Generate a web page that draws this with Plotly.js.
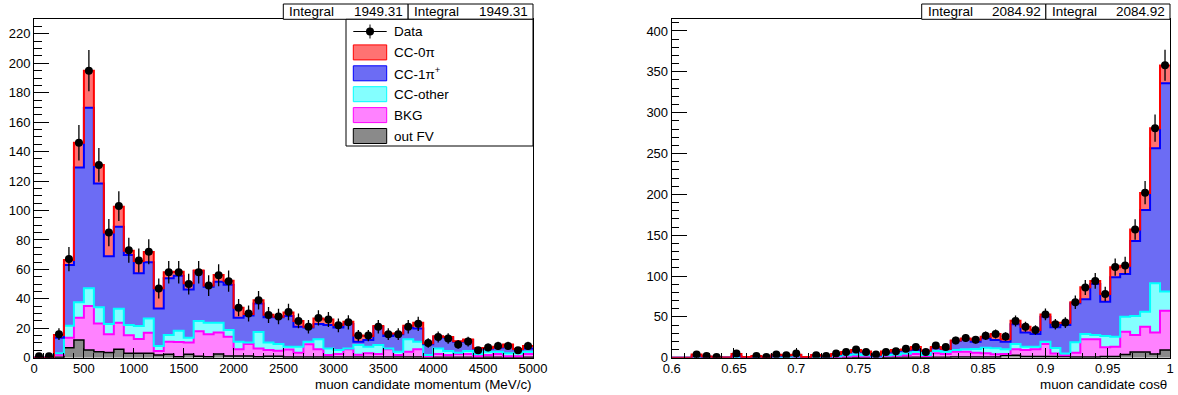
<!DOCTYPE html>
<html><head><meta charset="utf-8">
<script src="https://cdn.plot.ly/plotly-3.0.1.min.js"></script>
<style>html,body{margin:0;padding:0;background:#fff;}#chart{width:1178px;height:395px;}</style>
</head><body><div id="chart"></div>
<script>
// ---------------- data ----------------
const momBinLow = 0, momBinWidth = 100;      // 50 bins, 0-5000 MeV/c
const cosBinLow = 0.6, cosBinWidth = 0.008;  // 50 bins, 0.6-1.0

const momData = [1,1,16,67,146,195,131,85,103,73,66,72,47,58,58,50,58,49,56,52,34,30,39,29,28,31,25,21,27,26,22,24,15,15,21,16,16,21,23,10,14,13,9,11,5,7,8,8,5,8];
const momOutFV = [0,0,0.3,6.8,12,5.2,4,3.6,5.7,3,3,3,1.8,2.3,0.7,2.3,1,0.7,2.5,1.2,1.2,1.2,0.7,1,1,0.5,0.5,0.5,0.5,0.5,0.5,0.5,0.5,0.5,0.5,0.5,0.5,0.5,0.5,0.5,0.3,0.3,0.3,0.3,0.3,0.3,0.3,0.3,0.3,0.3];
const momBKG = [0,0,1.7,6.8,15.2,29.9,19.3,12.4,18.1,12.2,9.7,14,2.7,8.6,9.9,8.1,17,15.3,14.7,13.1,4.5,8.1,5.6,4.2,3.8,5,2.9,8.6,5.2,1.3,2,5.2,1.5,2.5,2,5.2,1.3,3.6,5.2,0.5,2.2,1.5,2.2,2.2,0.7,1.5,2.2,0.7,0.7,2.2];
const momCCother = [0,0,1,8.1,10.4,12,10.9,6.9,9.5,7,8.8,9.7,3.5,4.5,7.7,3.2,6.9,7.8,6.6,4.5,5.2,1.1,11.1,5.2,4.5,2,4.1,1.8,6.8,4.5,2.7,0.6,6.6,4.5,6.1,0.6,2.3,8.4,5.2,0.8,3.8,2.7,0.9,2,1.5,2.3,1.6,2,2,1.6];
const momCC1pi = [0,0,10.5,41.3,91.7,122.7,84.2,46.1,55.7,47.5,35.8,38.1,25.5,38.6,37.4,32.8,34,24.4,27.8,30.8,16.3,18.2,19.5,17,18.1,20.8,13.5,9.7,10.4,15.9,15.4,16.6,2.3,4.5,12.4,8.4,11.9,8.1,9,7.3,7.9,9.3,7.5,7.5,3.8,2.2,2.9,5.6,2.7,2.2];
const momCC0pi = [0,0,2,3.3,16.7,25.2,12.6,16,13.6,3,8.4,7,13.6,4,2.7,4.1,0.3,0.8,4.5,2.7,6.8,1.1,2.1,1.8,0.5,2.4,4,0.4,3.8,3.8,1.6,1.6,4.1,2.7,0.5,1.8,0.5,1.1,3.9,0.7,0.3,0.3,0.3,0.3,0.2,0.3,0.5,0.3,0.2,1.6];

const cosData = [null,null,4,2,1,null,5,null,2,1,4,3,5,null,3,2,5,7,10,7,4,7,8,11,13,7,15,13,21,24,22,27,29,26,45,38,34,53,41,43,68,86,94,78,111,113,157,202,281,358];
const cosOutFV = [0,0,0,0,0,0,0,0,0,0,0,0,0,0,0,0,0,0.3,0.3,0.3,0.3,0.3,0.5,0.5,0.7,0.7,0.7,0.7,1,1,1,1,1,2.9,2.9,1.5,1.5,1.5,1.5,1.5,1,1,1,1.5,1.5,4,7,7,4.5,9.4];
const cosBKG = [0,0,1,0.5,0.2,0,0.6,0.2,0.6,0.2,1,0.5,1,0.2,0.5,0.3,1,1.2,1.7,1.2,0.7,1.7,2,2.5,3.8,1.3,4.6,3.8,6.4,6.4,5.1,4.3,3.1,1.6,7.3,7.9,8.7,15.3,3.5,1.5,5,21.5,21.5,11.2,12,27.9,20.8,31,26.5,48.2];
const cosCCother = [0,0,0.3,0.1,0,0,0.2,0.1,0.2,0.1,0.3,0.3,0.5,0.1,0.5,0.2,0.8,1.5,2,1.5,0.5,1,1,2,2.9,1.3,2.9,2.9,2,2.8,4.5,7,7.4,5.7,6.6,4.1,3.3,2.8,7,2,12.9,6.5,5.3,13.9,12.3,18.3,23.2,18.4,60,23.3];
const cosCC1pi = [0,0,1,0.6,0.3,0.2,1.2,0.3,0.8,0.3,1.2,1.8,1.5,0.3,2,1,2,3.5,4.5,4,1.2,3.5,5,4,2,5.3,4.1,3.2,11,12.3,9,11.4,10.2,9.4,24,17.5,15.5,30.6,25.2,35,47.7,42.5,62.4,42,72.6,52.3,91.9,124.4,165.4,255.1];
const cosCC0pi = [0,0,1.5,0.3,0.1,0.1,2.5,0.2,0.4,0.2,1,0.4,0.5,0.2,0.3,0.3,0.7,0.5,1,0.5,0.8,1,1,1,3.6,0,0.7,0.4,0.6,1,2.4,1.8,7.3,2.9,4.5,7,4.9,2.8,5.7,2.9,1.3,14.7,3.7,9.4,12.3,10.2,14.1,20.9,24.4,21.6];

const componentNames = ['out FV','BKG','CC-other','CC-1π<sup>+</sup>','CC-0π'];
const legendOrder = ['Data','CC-0π','CC-1π<sup>+</sup>','CC-other','BKG','out FV'];
const momIntegral = '1949.31';
const cosIntegral = '2084.92';
const momTitle = 'muon candidate momentum (MeV/c)';
const cosTitle = 'muon candidate cosθ';

// ---------------- style ----------------
const lineColors = ['#000000','#ff00ff','#00ffff','#0000ff','#ff0000'];
const fillColors = ['#8a8a8a','#ff82ff','#84ffff','#6c6cf4','#ff7272'];
const FONT = 'Liberation Sans, Arial, sans-serif';
const W = 1178, H = 395;
const fx = p => p / W, fy = p => 1 - p / H;

function stepTrace(low, width, vals, xa, ya, idx, group) {
  const x = [], y = [];
  for (let i = 0; i < vals.length; i++) { x.push(low + i * width); y.push(vals[i]); }
  x.push(low + vals.length * width); y.push(vals[vals.length - 1]);
  return {type:'scatter', mode:'lines', x, y, xaxis:xa, yaxis:ya, stackgroup:group,
    name: componentNames[idx], line:{shape:'hv', color:lineColors[idx], width: idx===0?1.5:2},
    fillcolor: fillColors[idx], hoverinfo:'skip', showlegend:false};
}
function dataTrace(low, width, vals, xa, ya) {
  const x = vals.map((_, i) => low + (i + 0.5) * width);
  return {type:'scatter', mode:'markers', x, y: vals, xaxis:xa, yaxis:ya, name:'Data',
    marker:{color:'black', size:8, symbol:'circle'},
    error_y:{type:'data', array: vals.map(v => v==null?null:Math.sqrt(v)), color:'black', thickness:1.3, width:0},
    showlegend:false};
}

const momSeries = [momOutFV, momBKG, momCCother, momCC1pi, momCC0pi];
const cosSeries = [cosOutFV, cosBKG, cosCCother, cosCC1pi, cosCC0pi];
const traces = [];
momSeries.forEach((s, i) => traces.push(stepTrace(momBinLow, momBinWidth, s, 'x', 'y', i, 'L')));
traces.push(dataTrace(momBinLow, momBinWidth, momData, 'x', 'y'));
cosSeries.forEach((s, i) => traces.push(stepTrace(cosBinLow, cosBinWidth, s, 'x2', 'y2', i, 'R')));
traces.push(dataTrace(cosBinLow, cosBinWidth, cosData, 'x2', 'y2'));

const tickFont = {family:FONT, size:13, color:'black'};
function axis(domain, range, dtick, minor, ticklen, anchor, tick0) {
  return {domain, range, anchor, dtick, tick0, showline:true, linecolor:'black', linewidth:1, mirror:true,
    ticks:'inside', ticklen, tickwidth:1, tickcolor:'black', showgrid:false, zeroline:false,
    tickfont:tickFont, minor:{dtick:minor, ticks:'inside', ticklen:ticklen/2, tickcolor:'black', showgrid:false},
    fixedrange:true};
}
const leftX = [34, 533], rightX = [671.7, 1170], plotY = [19.3, 357.7];
const layout = {
  width:W, height:H, margin:{l:0,r:0,t:0,b:0}, paper_bgcolor:'white', plot_bgcolor:'white', showlegend:false,
  font:{family:FONT, size:13, color:'black'},
  xaxis: axis([fx(leftX[0]), fx(leftX[1])], [0,5000], 500, 100, 10, 'y', 0),
  yaxis: axis([fy(plotY[1]), fy(plotY[0])], [0,229.9], 20, 5, 15, 'x', 0),
  xaxis2: axis([fx(rightX[0]), fx(rightX[1])], [0.6,1.0], 0.05, 0.01, 10, 'y2', 0.6),
  yaxis2: axis([fy(plotY[1]), fy(plotY[0])], [0,414.3], 50, 10, 15, 'x2', 0),
  shapes:[], annotations:[]
};
layout.xaxis.ticklabelstandoff = -1; layout.xaxis2.ticklabelstandoff = -1;

function text(t, x, y, anchor, size) {
  layout.annotations.push({text:t, x:fx(x), y:fy(y), xref:'paper', yref:'paper', xanchor:anchor, yanchor:'middle',
    showarrow:false, borderpad:0, font:{family:FONT, size:size||13.5, color:'black'}});
}
function rect(x0, y0, x1, y1, fill, line, lw) {
  layout.shapes.push({type:'rect', xref:'paper', yref:'paper', x0:fx(x0), x1:fx(x1), y0:fy(y1), y1:fy(y0),
    fillcolor:fill, line:{color:line, width:lw==null?1:lw}, layer:'above'});
}

// axis titles (right aligned, ROOT style)
text(momTitle, leftX[1], 384, 'right', 13.4);
text(cosTitle, rightX[1] - 2, 384, 'right', 13.4);

// Integral stat boxes
function statBoxes(x0, x1, value) {
  const xm = (x0 + x1) / 2;
  rect(x0, 4, xm, 19.3, 'white', 'black');
  rect(xm, 4, x1, 19.3, 'white', 'black');
  text('Integral', x0 + 5, 11.5, 'left');
  text(value, xm - 4, 11.5, 'right');
  text('Integral', xm + 5, 11.5, 'left');
  text(value, x1 - 4, 11.5, 'right');
}
statBoxes(283.3, leftX[1], momIntegral);
statBoxes(921.7, rightX[1], cosIntegral);

// Legend box (left panel)
rect(346, 19.3, 533, 146, 'white', 'black');
const legY0 = 31.5, legDy = 20.9, symX0 = 353.3, symX1 = 386.7, txtX = 392.5;
legendOrder.forEach((name, k) => {
  const y = legY0 + k * legDy;
  if (k === 0) {
    layout.shapes.push({type:'line', xref:'paper', yref:'paper', x0:fx(symX0), x1:fx(symX1), y0:fy(y), y1:fy(y), line:{color:'black', width:1}, layer:'above'});
    layout.shapes.push({type:'line', xref:'paper', yref:'paper', x0:fx((symX0+symX1)/2), x1:fx((symX0+symX1)/2), y0:fy(y-7), y1:fy(y+7), line:{color:'black', width:1}, layer:'above'});
    layout.shapes.push({type:'circle', xref:'paper', yref:'paper', x0:fx((symX0+symX1)/2-4), x1:fx((symX0+symX1)/2+4), y0:fy(y+4), y1:fy(y-4), fillcolor:'black', line:{color:'black', width:0}, layer:'above'});
  } else {
    const ci = componentNames.indexOf(name);
    rect(symX0, y - 7.5, symX1, y + 7.5, fillColors[ci], lineColors[ci], 1);
  }
  text(name, txtX, y, 'left', 13.5);
});

Plotly.newPlot('chart', traces, layout, {staticPlot:true, displayModeBar:false});
</script></body></html>
